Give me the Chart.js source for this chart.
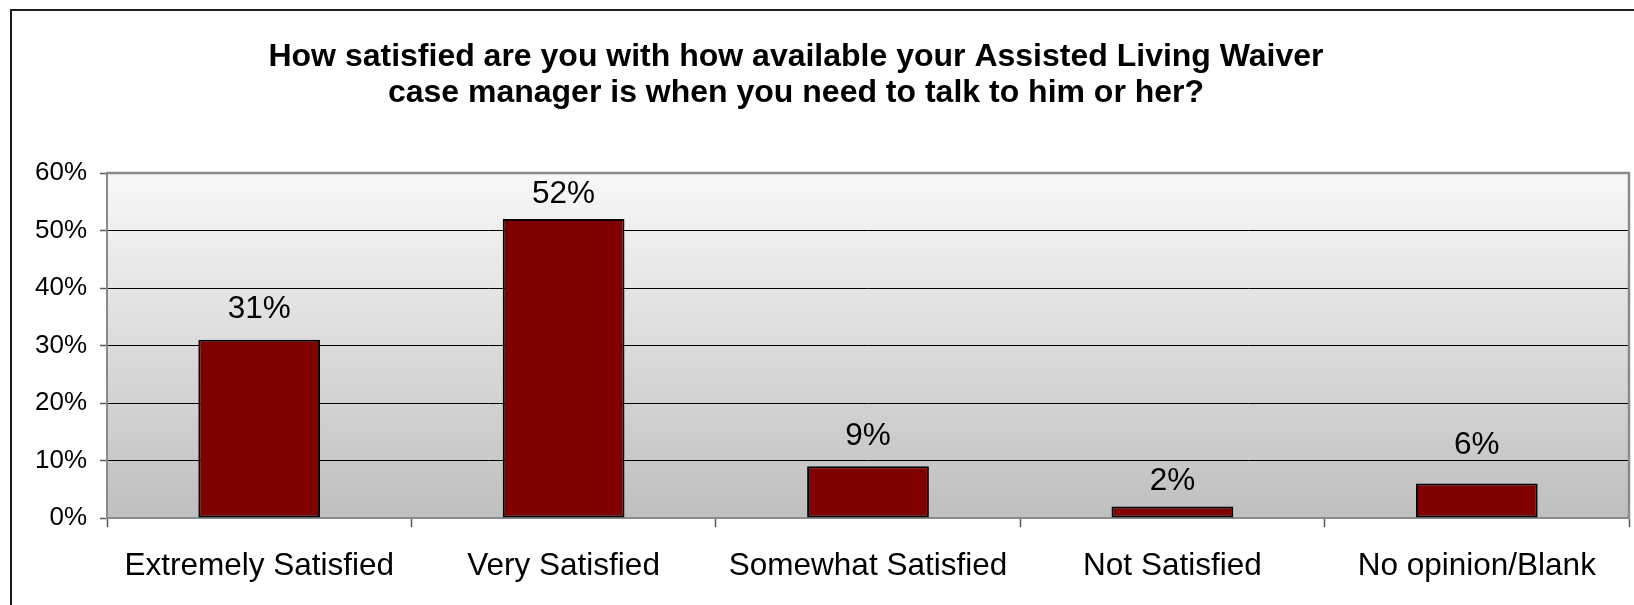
<!DOCTYPE html>
<html>
<head>
<meta charset="utf-8">
<title>Case manager availability</title>
<script src="https://cdn.jsdelivr.net/npm/chart.js@4.4.1/dist/chart.umd.min.js"></script>
<style>
  html, body { margin: 0; padding: 0; background: #ffffff; }
  #wrap { width: 1634px; height: 605px; position: relative; }
</style>
</head>
<body>
<div id="wrap"><canvas id="satisfaction-canvas" width="1634" height="605"></canvas></div>
<script>
const titleLines = [
  "How satisfied are you with how available your Assisted Living Waiver",
  "case manager is when you need to talk to him or her?",
];
const categories = ["Extremely Satisfied", "Very Satisfied", "Somewhat Satisfied", "Not Satisfied", "No opinion/Blank"];
const percentages = [31, 52, 9, 2, 6];
const yTickValues = [0, 10, 20, 30, 40, 50, 60];

// gap in px between bar top and label baseline (labels were nudged by hand)
const labelGaps = [22, 16, 21, 17, 30];

const FONT = "'Liberation Sans', Arial, Helvetica, sans-serif";

function formatPercent(value) {
  return `${value}%`;
}

// frame, gradient plot background, plot border
const backdropPlugin = {
  id: "backdrop",
  beforeDraw(chart) {
    const { ctx, chartArea: a } = chart;
    ctx.save();
    ctx.strokeStyle = "#1e1e1e";
    ctx.lineWidth = 2;
    ctx.beginPath();
    ctx.moveTo(11, chart.height + 5);
    ctx.lineTo(11, 10);
    ctx.lineTo(chart.width + 5, 10);
    ctx.stroke();

    const grad = ctx.createLinearGradient(0, a.top, 0, a.bottom);
    grad.addColorStop(0, "#f8f8f8");
    grad.addColorStop(1, "#bfbfbf");
    ctx.fillStyle = grad;
    ctx.fillRect(a.left, a.top, a.right - a.left, a.bottom - a.top);
    ctx.restore();
  },
  beforeDatasetsDraw(chart) {
    const { ctx, chartArea: a } = chart;
    ctx.save();
    ctx.strokeStyle = "#8a8a8a";
    ctx.lineWidth = 2.5;
    ctx.beginPath();
    ctx.moveTo(a.left, a.top);
    ctx.lineTo(a.right, a.top);
    ctx.lineTo(a.right, a.bottom);
    ctx.stroke();
    ctx.restore();
  },
};

// two line bold title, placed over the left part like the original sheet
const titlePlugin = {
  id: "sheetTitle",
  afterDraw(chart) {
    const { ctx } = chart;
    ctx.save();
    ctx.font = `bold 32px ${FONT}`;
    ctx.fillStyle = "#000000";
    ctx.textAlign = "center";
    ctx.textBaseline = "alphabetic";
    ctx.fillText(titleLines[0], 796, 66);
    ctx.fillText(titleLines[1], 796, 102);
    ctx.restore();
  },
};

const valueLabelPlugin = {
  id: "valueLabels",
  afterDatasetsDraw(chart) {
    const { ctx } = chart;
    const meta = chart.getDatasetMeta(0);
    ctx.save();
    ctx.font = `31.5px ${FONT}`;
    ctx.fillStyle = "#000000";
    ctx.textAlign = "center";
    ctx.textBaseline = "alphabetic";
    meta.data.forEach((bar, index) => {
      ctx.fillText(formatPercent(percentages[index]), bar.x, bar.y - labelGaps[index]);
    });
    ctx.restore();
  },
};

function buildChart() {
  const canvas = document.querySelector("#satisfaction-canvas");
  return new Chart(canvas, {
    type: "bar",
    data: {
      labels: categories,
      datasets: [
        {
          data: percentages,
          backgroundColor: "#800000",
          borderColor: "#000000",
          borderWidth: 2,
          borderSkipped: false,
          categoryPercentage: 1,
          barPercentage: 0.4,
        },
      ],
    },
    options: {
      responsive: false,
      animation: false,
      devicePixelRatio: 1,
      layout: { padding: { top: 173, right: 5, left: 0, bottom: 0 } },
      plugins: {
        legend: { display: false },
        title: { display: false },
        tooltip: { enabled: false },
      },
      scales: {
        x: {
          offset: true,
          afterFit(scale) { scale.height = 87; },
          grid: { display: true, offset: true, drawOnChartArea: false, tickLength: 9, tickColor: "#5a5a5a", tickWidth: 1.5 },
          border: { color: "#8a8a8a", width: 2 },
          ticks: { color: "#000000", padding: 20, font: { family: FONT, size: 31.5 } },
        },
        y: {
          min: 0,
          max: 60,
          afterFit(scale) { scale.width = 107; },
          afterBuildTicks(scale) { scale.ticks = yTickValues.map((value) => ({ value })); },
          grid: { color: "#000000", lineWidth: 1, tickLength: 7, tickColor: "#5a5a5a", tickWidth: 1.5 },
          border: { color: "#8a8a8a", width: 2 },
          ticks: { color: "#000000", padding: 13, font: { family: FONT, size: 26 }, callback: (value) => formatPercent(value) },
        },
      },
    },
    plugins: [backdropPlugin, titlePlugin, valueLabelPlugin],
  });
}

buildChart();
</script>
</body>
</html>
